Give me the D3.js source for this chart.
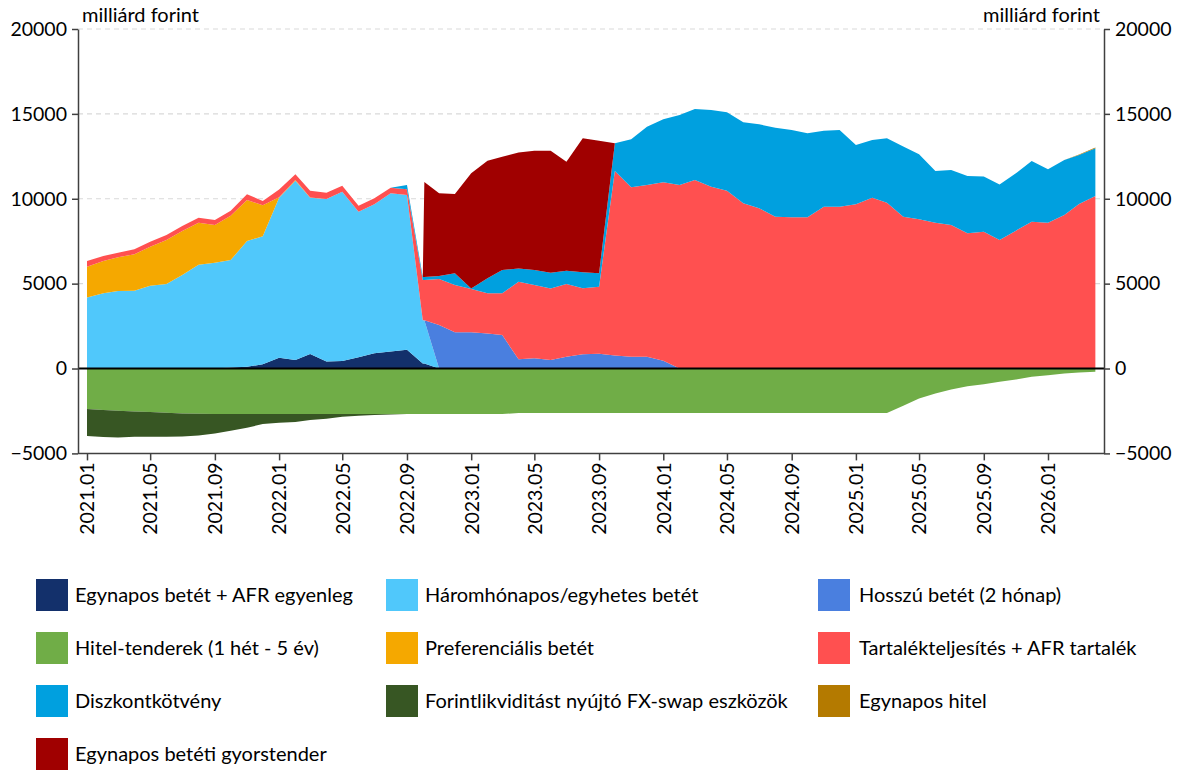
<!DOCTYPE html>
<html>
<head>
<meta charset="utf-8">
<script src="https://cdn.jsdelivr.net/npm/d3@7"></script>
<style>
  body { margin: 0; background: #fff; }
  svg text { font-family: Lato, "Liberation Sans", sans-serif; fill: #000; }
</style>
</head>
<body>
<svg id="chart" width="1180" height="771"></svg>
<script>
// Observation dates (month starts; the gyorstender facility opens a few days into October 2022)
const dates = [
  "2021-01-01","2021-02-01","2021-03-01","2021-04-01","2021-05-01","2021-06-01","2021-07-01","2021-08-01","2021-09-01","2021-10-01",
  "2021-11-01","2021-12-01","2022-01-01","2022-02-01","2022-03-01","2022-04-01","2022-05-01","2022-06-01","2022-07-01","2022-08-01",
  "2022-09-01","2022-10-01","2022-10-04","2022-11-01","2022-12-01","2023-01-01","2023-02-01","2023-03-01","2023-04-01","2023-05-01",
  "2023-06-01","2023-07-01","2023-08-01","2023-09-01","2023-10-01","2023-11-01","2023-12-01","2024-01-01","2024-02-01","2024-03-01",
  "2024-04-01","2024-05-01","2024-06-01","2024-07-01","2024-08-01","2024-09-01","2024-10-01","2024-11-01","2024-12-01","2025-01-01",
  "2025-02-01","2025-03-01","2025-04-01","2025-05-01","2025-06-01","2025-07-01","2025-08-01","2025-09-01","2025-10-01","2025-11-01",
  "2025-12-01","2026-01-01","2026-02-01","2026-03-01","2026-04-01"
];

// Balances, billion HUF (one value per date above)
const egynaposBetet = [
  0,0,0,0,0,0,0,0,0,60,
  100,250,640,500,850,420,440,660,900,1000,
  1100,300,300,0,0,0,0,0,0,0,
  0,0,0,0,0,0,0,0,0,0,
  0,0,0,0,0,0,0,0,0,0,
  0,0,0,0,0,0,0,0,0,0,
  0,0,0,0,0
];
const haromhonapos = [
  4190,4430,4565,4585,4880,4980,5510,6115,6235,6330,
  7410,7540,9420,10560,9210,9560,9980,8580,8770,9320,
  9120,2550,2550,0,0,0,0,0,0,0,
  0,0,0,0,0,0,0,0,0,0,
  0,0,0,0,0,0,0,0,0,0,
  0,0,0,0,0,0,0,0,0,0,
  0,0,0,0,0
];
const hosszu = [
  0,0,0,0,0,0,0,0,0,0,
  0,0,0,0,0,0,0,0,0,0,
  0,0,0,2560,2130,2130,2070,1970,540,600,
  500,695,836,870,760,695,695,460,0,0,
  0,0,0,0,0,0,0,0,0,0,
  0,0,0,0,0,0,0,0,0,0,
  0,0,0,0,0
];
const hitelTender = [
  -2391,-2450,-2489,-2528,-2568,-2607,-2646,-2666,-2685,-2685,
  -2685,-2685,-2685,-2685,-2685,-2685,-2685,-2685,-2685,-2685,
  -2685,-2685,-2685,-2680,-2680,-2680,-2680,-2680,-2620,-2620,
  -2620,-2620,-2620,-2620,-2620,-2620,-2620,-2620,-2620,-2620,
  -2620,-2620,-2620,-2620,-2620,-2620,-2620,-2620,-2620,-2620,
  -2620,-2620,-2195,-1764,-1470,-1235,-1039,-921,-784,-647,
  -490,-392,-294,-235,-196
];
const preferencialis = [
  1800,1900,1985,2140,2295,2590,2590,2475,2220,2610,
  2415,1826,30,50,20,0,0,0,0,0,
  0,0,0,0,0,0,0,0,0,0,
  0,0,0,0,0,0,0,0,0,0,
  0,0,0,0,0,0,0,0,0,0,
  0,0,0,0,0,0,0,0,0,0,
  0,0,0,0,0
];
const tartalek = [
  350,300,270,295,295,295,295,295,295,295,
  336,254,460,336,394,372,353,354,354,330,
  336,2360,2360,2710,2790,2550,2360,2460,4570,4320,
  4220,4280,3890,3950,10875,9980,10115,10510,10810,11105,
  10710,10474,9732,9437,8943,8908,8908,9532,9532,9673,
  10064,9770,8945,8788,8591,8454,7962,8061,7569,8120,
  8650,8591,9044,9692,10164
];
const diszkont = [
  0,0,0,0,0,0,0,0,0,0,
  0,0,0,0,0,0,0,0,0,0,
  250,180,180,180,690,30,883,1372,787,883,
  920,784,943,790,1632,2827,3435,3711,4124,4182,
  4518,4618,4772,4949,5243,5142,4948,4478,4518,3493,
  3401,3794,4129,3834,3048,3244,3382,3244,3264,3381,
  3578,3146,3243,2890,2812
];
const fxSwap = [
  -1588,-1588,-1568,-1490,-1450,-1411,-1352,-1274,-1137,-980,
  -804,-588,-510,-471,-353,-275,-157,-98,-59,-20,
  0,0,0,0,0,0,0,0,0,0,
  0,0,0,0,0,0,0,0,0,0,
  0,0,0,0,0,0,0,0,0,0,
  0,0,0,0,0,0,0,0,0,0,
  0,0,0,0,0
];
const egynaposHitel = [
  0,0,0,0,0,0,0,0,0,0,
  0,0,0,0,0,0,0,0,0,0,
  0,0,0,0,0,0,0,0,0,0,
  0,0,0,0,0,0,0,0,0,0,
  0,0,0,0,0,0,0,0,0,0,
  0,0,0,0,0,0,0,0,0,0,
  0,0,0,30,50
];
const gyorstender = [
  0,0,0,0,0,0,0,0,0,0,
  0,0,0,0,0,0,0,0,0,0,
  0,0,5600,4870,4670,6790,6927,6678,6835,7028,
  7186,6421,7893,7812,0,0,0,0,0,0,
  0,0,0,0,0,0,0,0,0,0,
  0,0,0,0,0,0,0,0,0,0,
  0,0,0,0,0
];

const yTicks = [-5000, 0, 5000, 10000, 15000, 20000];
const unitLabel = "milliárd forint";

// Series in legend order
const series = [
  { key: "egynaposBetet",  name: "Egynapos betét + AFR egyenleg",             values: egynaposBetet,  color: "#13306b" },
  { key: "haromhonapos",   name: "Háromhónapos/egyhetes betét",               values: haromhonapos,   color: "#50c8fb" },
  { key: "hosszu",         name: "Hosszú betét (2 hónap)",                    values: hosszu,         color: "#4a7fdf" },
  { key: "hitelTender",    name: "Hitel-tenderek (1 hét - 5 év)",             values: hitelTender,    color: "#70ad47" },
  { key: "preferencialis", name: "Preferenciális betét",                      values: preferencialis, color: "#f5a800" },
  { key: "tartalek",       name: "Tartalékteljesítés + AFR tartalék",         values: tartalek,       color: "#ff5050" },
  { key: "diszkont",       name: "Diszkontkötvény",                           values: diszkont,       color: "#00a0df" },
  { key: "fxSwap",         name: "Forintlikviditást nyújtó FX-swap eszközök", values: fxSwap,         color: "#375623" },
  { key: "egynaposHitel",  name: "Egynapos hitel",                            values: egynaposHitel,  color: "#b47a00" },
  { key: "gyorstender",    name: "Egynapos betéti gyorstender",               values: gyorstender,    color: "#a00000" }
];
const posKeys = ["egynaposBetet","haromhonapos","hosszu","preferencialis","tartalek","diszkont","egynaposHitel","gyorstender"];
const negKeys = ["hitelTender","fxSwap"];

const parse = d3.timeParse("%Y-%m-%d");
const rows = dates.map((d, i) => {
  const r = { date: parse(d) };
  series.forEach(s => { r[s.key] = s.values[i] || 0; });
  return r;
});

const svg = d3.select("#chart");
const left = 78, right = 1104;
const x = d3.scaleTime()
  .domain([parse("2021-01-01"), parse("2026-01-01")])
  .range([87, 1048]);
const y = d3.scaleLinear().domain([-5000, 20000]).range([453.4, 29]);

// gridlines
svg.append("g").selectAll("line")
  .data(yTicks.filter(v => v > 0))
  .join("line")
  .attr("x1", left).attr("x2", right)
  .attr("y1", d => y(d)).attr("y2", d => y(d))
  .attr("stroke", "#d9d9d9").attr("stroke-width", 1.2)
  .attr("stroke-dasharray", "5,4");

// stacks: positives upward, negatives downward from zero
const posStack = d3.stack().keys(posKeys)(rows);
const negStack = d3.stack().keys(negKeys).value((d, k) => -d[k])(rows);
const colorOf = Object.fromEntries(series.map(s => [s.key, s.color]));

const areaPos = d3.area()
  .x(d => x(d.data.date))
  .y0(d => y(d[0]))
  .y1(d => y(d[1]));
const areaNeg = d3.area()
  .x(d => x(d.data.date))
  .y0(d => y(-d[0]))
  .y1(d => y(-d[1]));

const plot = svg.append("g");
plot.selectAll("path.neg").data(negStack).join("path")
  .attr("class", "neg")
  .attr("fill", d => colorOf[d.key])
  .attr("d", areaNeg);
plot.selectAll("path.pos").data(posStack).join("path")
  .attr("class", "pos")
  .attr("fill", d => colorOf[d.key])
  .attr("d", areaPos);

// zero line
svg.append("line")
  .attr("x1", left).attr("x2", right)
  .attr("y1", y(0)).attr("y2", y(0))
  .attr("stroke", "#000").attr("stroke-width", 2);

// bottom date axis
const xAxis = d3.axisBottom(x)
  .ticks(d3.timeMonth.every(4))
  .tickFormat(d3.timeFormat("%Y.%m"))
  .tickSize(7).tickSizeOuter(0);
const gx = svg.append("g").attr("transform", `translate(0,${y(-5000)})`).call(xAxis);
gx.select(".domain").remove();
gx.append("line").attr("x1", left).attr("x2", right).attr("y1", 0).attr("y2", 0)
  .attr("stroke", "#404040").attr("stroke-width", 1.5);
gx.selectAll(".tick line").attr("stroke", "#404040").attr("stroke-width", 1.5);
gx.selectAll(".tick text")
  .attr("font-size", 19.5)
  .attr("text-anchor", "end")
  .attr("transform", "rotate(-90)")
  .attr("x", -9).attr("y", 0).attr("dy", "0.35em");

// value axes on both sides
function styleY(g) {
  g.select(".domain").attr("stroke", "#404040").attr("stroke-width", 1.5);
  g.selectAll(".tick line").attr("stroke", "#404040").attr("stroke-width", 1.5);
  g.selectAll(".tick text").attr("font-size", 19.5);
}
const gyl = svg.append("g").attr("transform", `translate(${left},0)`)
  .call(d3.axisLeft(y).tickValues(yTicks).tickFormat(d3.format("d")).tickSize(6).tickSizeOuter(0).tickPadding(5));
styleY(gyl);
const gyr = svg.append("g").attr("transform", `translate(${right},0)`)
  .call(d3.axisRight(y).tickValues(yTicks).tickFormat(d3.format("d")).tickSize(6).tickSizeOuter(0).tickPadding(5));
styleY(gyr);

// unit labels
svg.append("text").attr("x", 82).attr("y", 22).attr("font-size", 20).text(unitLabel);
svg.append("text").attr("x", 1100).attr("y", 22).attr("font-size", 20)
  .attr("text-anchor", "end").text(unitLabel);

// legend: three columns, row-major
const colSwatch = [36, 386, 818];
const colText = [75, 425, 859];
const rowY = [595, 648, 701, 754];
const lg = svg.append("g").selectAll("g").data(series).join("g")
  .attr("transform", (d, i) => `translate(0,${rowY[Math.floor(i / 3)]})`);
lg.append("rect")
  .attr("x", (d, i) => colSwatch[i % 3]).attr("y", -16)
  .attr("width", 32).attr("height", 32)
  .attr("fill", d => d.color);
lg.append("text")
  .attr("x", (d, i) => colText[i % 3]).attr("y", 0).attr("dy", "0.35em")
  .attr("font-size", 20)
  .text(d => d.name);
</script>
</body>
</html>
